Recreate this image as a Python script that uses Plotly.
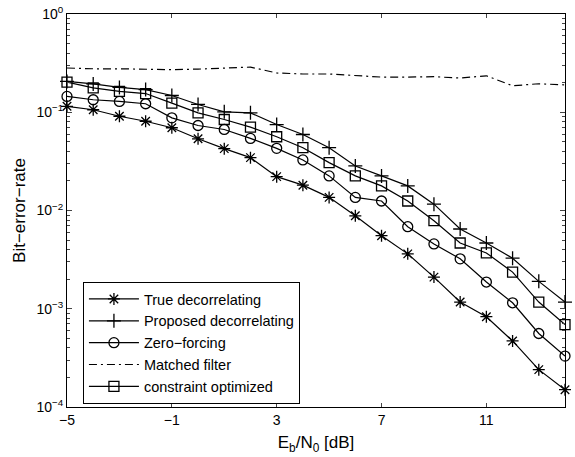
import plotly.graph_objects as go

snr_db = list(range(-5, 15))

true_decorr = [0.115, 0.106, 0.091, 0.081, 0.0695, 0.0537, 0.0426, 0.0345, 0.0221, 0.0181,
               0.0136, 0.00883, 0.00554, 0.00362, 0.00210, 0.00117, 0.00083, 0.00047, 0.00024, 0.00015]
proposed_decorr = [0.206, 0.194, 0.179, 0.170, 0.148, 0.120, 0.101, 0.0986, 0.075, 0.0594,
                   0.0436, 0.0284, 0.0225, 0.0178, 0.0116, 0.00648, 0.00467, 0.00327, 0.00190, 0.00117]
zero_forcing = [0.145, 0.134, 0.129, 0.122, 0.0877, 0.0733, 0.0668, 0.0542, 0.0429, 0.0327,
                0.0225, 0.0136, 0.0125, 0.00684, 0.00457, 0.00322, 0.00187, 0.00115, 0.00056, 0.00033]
matched_filter = [0.282, 0.277, 0.277, 0.275, 0.271, 0.275, 0.279, 0.288, 0.251, 0.245,
                  0.245, 0.237, 0.228, 0.228, 0.230, 0.223, 0.235, 0.186, 0.195, 0.190]
constraint_opt = [0.203, 0.177, 0.163, 0.155, 0.124, 0.0986, 0.0844, 0.0705, 0.0563, 0.0436,
                  0.0307, 0.0225, 0.0178, 0.0125, 0.00787, 0.00467, 0.00370, 0.00236, 0.00117, 0.00069]

x_ticks = [-5, -1, 3, 7, 11]
y_ticks = [1e-4, 1e-3, 1e-2, 1e-1, 1]
y_ticktext = ["10<sup>−4</sup>", "10<sup>−3</sup>", "10<sup>−2</sup>", "10<sup>−1</sup>", "10<sup>0</sup>"]

series = [
    ("True decorrelating", true_decorr, "asterisk-open", "solid"),
    ("Proposed decorrelating", proposed_decorr, "cross-thin-open", "solid"),
    ("Zero−forcing", zero_forcing, "circle-open", "solid"),
    ("Matched filter", matched_filter, None, "8px,4px,2px,4px"),
    ("constraint optimized", constraint_opt, "square-open", "solid"),
]

fig = go.Figure()
for name, vals, sym, dash in series:
    if sym is None:
        fig.add_trace(go.Scatter(x=snr_db, y=vals, name=name, mode="lines", cliponaxis=False,
                                 line=dict(color="black", width=1.2, dash=dash)))
    else:
        fig.add_trace(go.Scatter(x=snr_db, y=vals, name=name, mode="lines+markers", cliponaxis=False,
                                 line=dict(color="black", width=1.2, dash=dash),
                                 marker=dict(symbol=sym, size=10, color="black",
                                             line=dict(color="black", width=1.3))))

fig.update_layout(
    width=575, height=457,
    margin=dict(l=67, r=10, t=14, b=50),
    paper_bgcolor="white", plot_bgcolor="white",
    font=dict(family="Liberation Sans, Arial, sans-serif", size=14, color="black"),
    showlegend=True,
    legend=dict(x=0.032, y=0.318, xanchor="left", yanchor="top",
                bgcolor="white", bordercolor="black", borderwidth=1,
                font=dict(size=14.5), tracegroupgap=0, itemwidth=50),
    xaxis=dict(range=[-5, 14], tickvals=x_ticks, ticks="inside", ticklen=4,
               showline=True, linecolor="black", linewidth=1, mirror="ticks",
               showgrid=False, zeroline=False, automargin=False,
               title=dict(text="E<sub>b</sub>/N<sub>0</sub> [dB]", standoff=9)),
    yaxis=dict(type="log", range=[-4, 0], tickvals=y_ticks, ticktext=y_ticktext,
               ticks="inside", ticklen=5,
               minor=dict(ticks="inside", ticklen=3, showgrid=False,
                          tickvals=[m * 10 ** e for e in range(-4, 0) for m in range(2, 10)]),
               showline=True, linecolor="black", linewidth=1, mirror="ticks",
               showgrid=False, zeroline=False, automargin=False,
               title=dict(text="Bit−error−rate", standoff=6)),
)

fig.write_html("out.html", config={"displayModeBar": False},
               post_script="document.body.style.margin='0';document.body.style.overflow='hidden';")
